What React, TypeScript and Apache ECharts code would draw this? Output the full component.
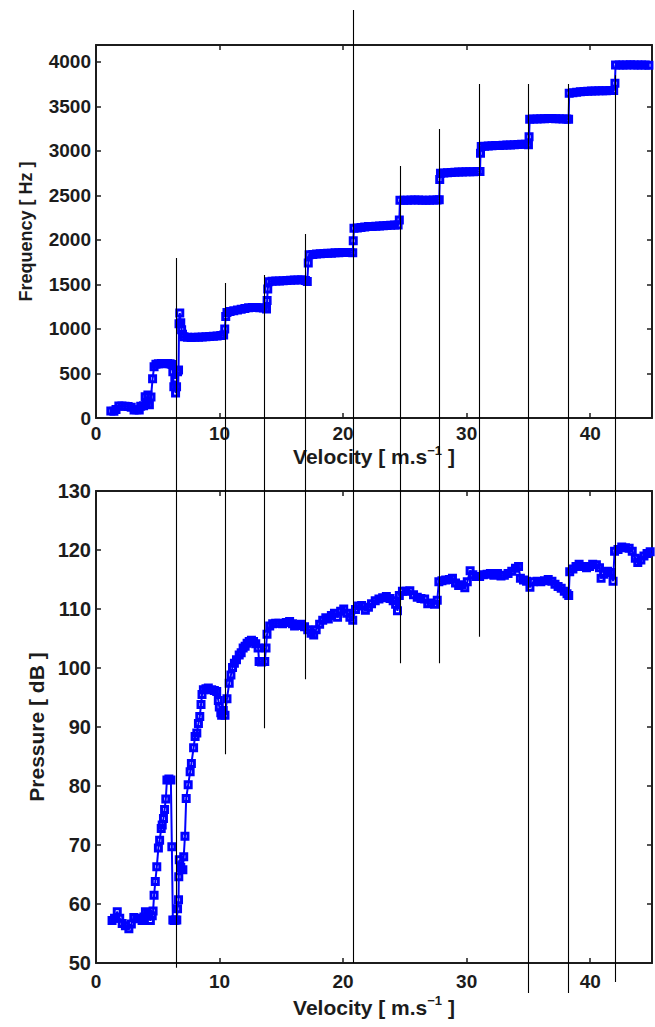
import { useEffect, useRef } from 'react';
import * as echarts from 'echarts';

// Velocity range shared by both panels [m/s]
const velocityMin = 0;
const velocityMax = 45;
const velocityStep = 10;

// Frequency axis [Hz]
const freqMin = 0;
const freqMax = 4190;
const freqStep = 500;

// Pressure axis [dB]
const pressureMin = 50;
const pressureMax = 130;
const pressureStep = 10;

// Dominant frequency vs flow velocity: [velocity, Hz]
const freqPoints: [number, number][] = [
  [1.2, 80], [1.45, 76], [1.62, 95], [1.85, 135], [2.1, 136], [2.35, 133], [2.6, 130], [2.85, 122],
  [3.08, 90], [3.3, 92], [3.5, 90], [3.62, 132], [3.85, 138], [3.98, 240], [4.08, 175], [4.2, 258],
  [4.32, 150], [4.45, 235], [4.58, 440], [4.7, 575], [4.85, 605], [5.05, 610], [5.3, 612], [5.55, 610],
  [5.8, 612], [6.0, 610], [6.15, 600], [6.22, 520], [6.3, 350], [6.38, 420], [6.44, 280], [6.52, 350],
  [6.6, 520], [6.68, 540], [6.72, 1060], [6.78, 1180], [6.86, 1070], [6.93, 990], [7.0, 940], [7.12, 914],
  [7.4, 908], [7.7, 905], [8.0, 906], [8.3, 908], [8.6, 910], [8.9, 912], [9.2, 915], [9.5, 918],
  [9.8, 922], [10.1, 928], [10.33, 933], [10.42, 1000], [10.5, 1140], [10.6, 1185], [10.85, 1195], [11.15, 1205],
  [11.45, 1212], [11.75, 1222], [12.05, 1230], [12.35, 1238], [12.65, 1242], [12.95, 1240], [13.25, 1238], [13.55, 1235],
  [13.8, 1225], [13.85, 1320], [13.9, 1450], [13.98, 1530], [14.25, 1535], [14.55, 1538], [14.85, 1540], [15.15, 1542],
  [15.45, 1545], [15.75, 1548], [16.05, 1550], [16.35, 1550], [16.65, 1552], [16.95, 1545], [17.1, 1532], [17.18, 1740],
  [17.25, 1835], [17.55, 1838], [17.85, 1842], [18.15, 1845], [18.45, 1848], [18.75, 1850], [19.05, 1852], [19.35, 1855],
  [19.65, 1857], [19.95, 1860], [20.25, 1858], [20.55, 1860], [20.78, 1857], [20.82, 1990], [20.88, 2132], [21.15, 2135],
  [21.45, 2140], [21.75, 2145], [22.05, 2150], [22.35, 2152], [22.65, 2155], [22.95, 2158], [23.25, 2160], [23.55, 2163],
  [23.85, 2165], [24.15, 2168], [24.45, 2169], [24.55, 2225], [24.6, 2445], [24.9, 2447], [25.2, 2447], [25.5, 2448],
  [25.8, 2450], [26.1, 2448], [26.4, 2447], [26.7, 2445], [27.0, 2447], [27.3, 2448], [27.6, 2450], [27.78, 2452],
  [27.82, 2680], [27.88, 2750], [28.15, 2752], [28.45, 2755], [28.75, 2757], [29.05, 2760], [29.35, 2762], [29.65, 2763],
  [29.95, 2765], [30.25, 2766], [30.55, 2767], [30.85, 2768], [31.08, 2770], [31.12, 2975], [31.18, 3050], [31.45, 3052],
  [31.75, 3055], [32.05, 3057], [32.35, 3060], [32.65, 3062], [32.95, 3065], [33.25, 3066], [33.55, 3068], [33.85, 3070],
  [34.15, 3072], [34.45, 3074], [34.75, 3075], [35.0, 3070], [35.05, 3160], [35.1, 3355], [35.4, 3358], [35.7, 3360],
  [36.0, 3362], [36.3, 3362], [36.6, 3363], [36.9, 3363], [37.2, 3362], [37.5, 3362], [37.8, 3360], [38.1, 3358],
  [38.25, 3356], [38.3, 3648], [38.6, 3655], [38.9, 3660], [39.2, 3664], [39.5, 3667], [39.8, 3670], [40.1, 3672],
  [40.4, 3674], [40.7, 3676], [41.0, 3676], [41.3, 3677], [41.6, 3678], [41.9, 3678], [42.0, 3760], [42.05, 3966],
  [42.35, 3966], [42.65, 3965], [42.95, 3966], [43.25, 3967], [43.55, 3966], [43.85, 3965], [44.15, 3965], [44.45, 3964],
  [44.75, 3963],
];

// Acoustic pressure level vs flow velocity: [velocity, dB]
const pressurePoints: [number, number][] = [
  [1.3, 57.2], [1.5, 57.6], [1.72, 58.7], [1.92, 57.6], [2.12, 56.7], [2.38, 56.3], [2.66, 55.8], [2.86, 56.6],
  [3.06, 57.7], [3.3, 57.5], [3.52, 57.6], [3.73, 57.2], [3.88, 57.8], [4.0, 58.7], [4.2, 58.2], [4.4, 57.2],
  [4.55, 58.0], [4.62, 58.8], [4.7, 61.5], [4.8, 63.8], [4.92, 66.3], [5.05, 69.5], [5.15, 70.8], [5.28, 72.8],
  [5.36, 73.4], [5.46, 74.5], [5.55, 76.0], [5.65, 77.8], [5.74, 81.0], [5.9, 81.2], [6.06, 81.0], [6.14, 69.7],
  [6.22, 57.3], [6.32, 57.2], [6.43, 57.3], [6.54, 57.3], [6.6, 59.2], [6.68, 60.7], [6.7, 64.6], [6.74, 67.5],
  [6.86, 66.2], [7.03, 65.8], [7.1, 68.0], [7.2, 71.5], [7.3, 77.9], [7.46, 80.2], [7.62, 82.4], [7.72, 83.8],
  [7.9, 86.5], [8.02, 88.4], [8.16, 89.0], [8.29, 90.6], [8.4, 91.8], [8.5, 93.8], [8.58, 95.5], [8.69, 96.3],
  [8.9, 96.5], [9.09, 96.6], [9.36, 96.3], [9.58, 96.2], [9.77, 96.0], [9.9, 94.5], [9.98, 93.4], [10.1, 92.4],
  [10.17, 92.0], [10.3, 92.8], [10.44, 92.0], [10.6, 94.8], [10.78, 97.4], [10.92, 98.8], [11.05, 100.1], [11.2, 100.8],
  [11.37, 101.4], [11.59, 102.2], [11.75, 102.6], [11.91, 103.4], [12.07, 103.7], [12.23, 104.2], [12.4, 104.5], [12.58, 104.7],
  [12.75, 104.5], [12.93, 104.1], [13.12, 103.4], [13.2, 101.1], [13.4, 101.0], [13.66, 101.1], [13.76, 103.4], [13.84, 105.7],
  [14.06, 107.1], [14.3, 107.5], [14.54, 107.6], [14.8, 107.6], [15.1, 107.5], [15.4, 107.7], [15.67, 107.9], [15.9, 107.5],
  [16.07, 107.1], [16.35, 107.2], [16.6, 107.4], [16.88, 107.0], [17.14, 106.5], [17.41, 105.9], [17.62, 105.6], [17.82, 106.5],
  [18.1, 107.4], [18.35, 108.1], [18.6, 108.5], [18.8, 108.3], [19.05, 108.9], [19.3, 109.3], [19.55, 108.6], [19.8, 109.6],
  [20.05, 110.0], [20.3, 109.3], [20.55, 108.6], [20.78, 108.1], [21.0, 109.9], [21.25, 110.5], [21.5, 110.6], [21.8, 109.8],
  [22.05, 110.3], [22.3, 110.9], [22.6, 111.4], [22.9, 111.7], [23.2, 111.9], [23.5, 112.1], [23.8, 111.8], [24.05, 111.4],
  [24.25, 110.8], [24.4, 109.7], [24.55, 112.3], [24.8, 113.0], [25.1, 113.0], [25.4, 113.1], [25.7, 112.4], [26.0, 112.0],
  [26.3, 111.8], [26.6, 111.7], [26.85, 110.9], [27.1, 111.0], [27.4, 110.8], [27.62, 111.5], [27.75, 114.6], [28.0, 114.8],
  [28.3, 114.9], [28.6, 115.0], [28.85, 115.2], [29.1, 114.4], [29.35, 114.0], [29.6, 114.1], [29.85, 113.6], [30.05, 114.6],
  [30.28, 116.5], [30.5, 115.8], [30.75, 115.5], [31.05, 115.5], [31.35, 115.8], [31.65, 115.9], [31.92, 116.0], [32.2, 115.7],
  [32.5, 116.0], [32.78, 115.6], [33.05, 115.7], [33.35, 116.0], [33.65, 116.4], [33.95, 116.9], [34.2, 117.2], [34.35, 115.2],
  [34.6, 114.9], [34.85, 114.7], [35.12, 113.7], [35.4, 114.6], [35.7, 114.7], [36.0, 114.6], [36.3, 114.8], [36.6, 115.0],
  [36.9, 114.7], [37.15, 114.2], [37.4, 113.8], [37.65, 113.5], [37.9, 113.0], [38.12, 112.6], [38.26, 112.3], [38.34, 116.3],
  [38.6, 116.8], [38.85, 117.2], [39.1, 117.6], [39.4, 117.2], [39.7, 117.0], [39.95, 117.2], [40.2, 117.6], [40.5, 117.5],
  [40.75, 117.0], [40.88, 115.2], [41.1, 115.9], [41.4, 116.4], [41.65, 116.2], [41.85, 114.7], [41.97, 119.8], [42.25, 120.1],
  [42.55, 120.5], [42.85, 120.4], [43.15, 120.3], [43.4, 119.8], [43.65, 118.6], [43.85, 117.9], [44.1, 118.3], [44.35, 119.0],
  [44.6, 119.4], [44.85, 119.7],
];

// Mode-switch velocities drawn as vertical lines spanning both panels:
// velocity, upper end (Hz, top panel scale), lower end (dB, bottom panel scale)
const boundaryVelocity = [6.5, 10.47, 13.63, 16.88, 20.77, 24.64, 27.8, 30.97, 34.94, 38.19, 41.99];
const boundaryTopHz = [1798, 1517, 1607, 2067, 4584, 2831, 3247, 3753, 3753, 3753, 3850];
const boundaryBottomDb = [49.2, 85.4, 89.8, 98.1, 50.0, 100.8, 100.8, 105.3, 44.9, 44.9, 46.8];

const FONT = "'Liberation Sans', Arial, Helvetica, sans-serif";
const INK = '#1c1c1c';
const BLUE = '#0000ff';

const velocityName = '{n|Velocity [ m.s}{s|\u22121}{n| ]}';
const velocityNameStyle = {
  fontFamily: FONT,
  color: INK,
  rich: {
    n: { fontSize: 21, fontWeight: 'bold', fontFamily: FONT, color: INK, lineHeight: 26 },
    s: { fontSize: 13, fontWeight: 'bold', fontFamily: FONT, color: INK, lineHeight: 14, verticalAlign: 'top' },
  },
};

const frame = (width = 2) => ({ show: true, onZero: false, lineStyle: { color: INK, width } });
const ticks = { show: true, inside: true, length: 5, lineStyle: { color: INK, width: 1.5 } };

function xAxes(gridIndex: number, labelMargin: number, nameGap: number) {
  const base = {
    gridIndex,
    type: 'value',
    min: velocityMin,
    max: velocityMax,
    interval: velocityStep,
    splitLine: { show: false },
    axisLine: frame(),
    axisTick: ticks,
  };
  return [
    {
      ...base,
      position: 'bottom',
      axisLabel: {
        fontSize: 19,
        fontWeight: 'bold',
        fontFamily: FONT,
        color: INK,
        margin: labelMargin,
        formatter: (v: number) => (v % velocityStep === 0 ? String(v) : ''),
      },
      name: velocityName,
      nameLocation: 'middle',
      nameGap,
      nameTextStyle: velocityNameStyle,
    },
    { ...base, position: 'top', axisLabel: { show: false } },
  ];
}

function yAxes(
  gridIndex: number,
  min: number,
  max: number,
  step: number,
  fontSize: number,
  name: string,
  nameSize: number,
  nameGap: number,
) {
  const base = {
    gridIndex,
    type: 'value',
    min,
    max,
    interval: step,
    splitLine: { show: false },
    axisLine: frame(),
    axisTick: ticks,
  };
  return [
    {
      ...base,
      position: 'left',
      axisLabel: {
        fontSize,
        fontWeight: 'bold',
        fontFamily: FONT,
        color: INK,
        margin: 5,
        formatter: (v: number) => (v % step === 0 ? String(v) : ''),
      },
      name,
      nameLocation: 'middle',
      nameGap,
      nameTextStyle: { fontSize: nameSize, fontWeight: 'bold', fontFamily: FONT, color: INK },
    },
    { ...base, position: 'right', axisLabel: { show: false } },
  ];
}

// Open square markers joined by a thin line; dense runs merge into a solid band
const markerSeries = (data: [number, number][], xAxisIndex: number, yAxisIndex: number) => ({
  type: 'line',
  xAxisIndex,
  yAxisIndex,
  data,
  symbol: 'rect',
  symbolSize: 6,
  showSymbol: true,
  showAllSymbol: true,
  lineStyle: { color: BLUE, width: 2 },
  itemStyle: { color: 'rgba(0,0,0,0)', borderColor: BLUE, borderWidth: 3 },
  emphasis: { disabled: true },
  clip: true,
  z: 3,
});

export default function App() {
  const ref = useRef<HTMLDivElement>(null);

  useEffect(() => {
    if (!ref.current) return;
    const chart = echarts.init(ref.current, null, { renderer: 'svg' });
    chart.setOption({
      animation: false,
      backgroundColor: '#ffffff',
      grid: [
        { left: 96, right: 1, top: 45, height: 373 },
        { left: 96, right: 1, top: 491, height: 472 },
      ],
      xAxis: [...xAxes(0, 6, 24), ...xAxes(1, 9, 31)],
      yAxis: [
        ...yAxes(0, freqMin, freqMax, freqStep, 19, 'Frequency [ Hz ]', 18, 61),
        ...yAxes(1, pressureMin, pressureMax, pressureStep, 20, 'Pressure [ dB ]', 21, 46),
      ],
      series: [markerSeries(freqPoints, 0, 0), markerSeries(pressurePoints, 2, 2)],
    });

    const lines = boundaryVelocity.map((v, i) => {
      const x = Math.round(chart.convertToPixel({ xAxisIndex: 0 }, v) as number) + 0.5;
      const y1 = chart.convertToPixel({ yAxisIndex: 0 }, boundaryTopHz[i]) as number;
      const y2 = chart.convertToPixel({ yAxisIndex: 2 }, boundaryBottomDb[i]) as number;
      return {
        type: 'line',
        silent: true,
        z: 100,
        shape: { x1: x, y1, x2: x, y2 },
        style: { stroke: '#000000', lineWidth: 1.1 },
      };
    });
    chart.setOption({ graphic: lines });

    return () => chart.dispose();
  }, []);

  return (
    <div
      ref={ref}
      style={{ position: 'fixed', left: 0, top: 0, width: 655, height: 1027, background: '#ffffff' }}
    />
  );
}
